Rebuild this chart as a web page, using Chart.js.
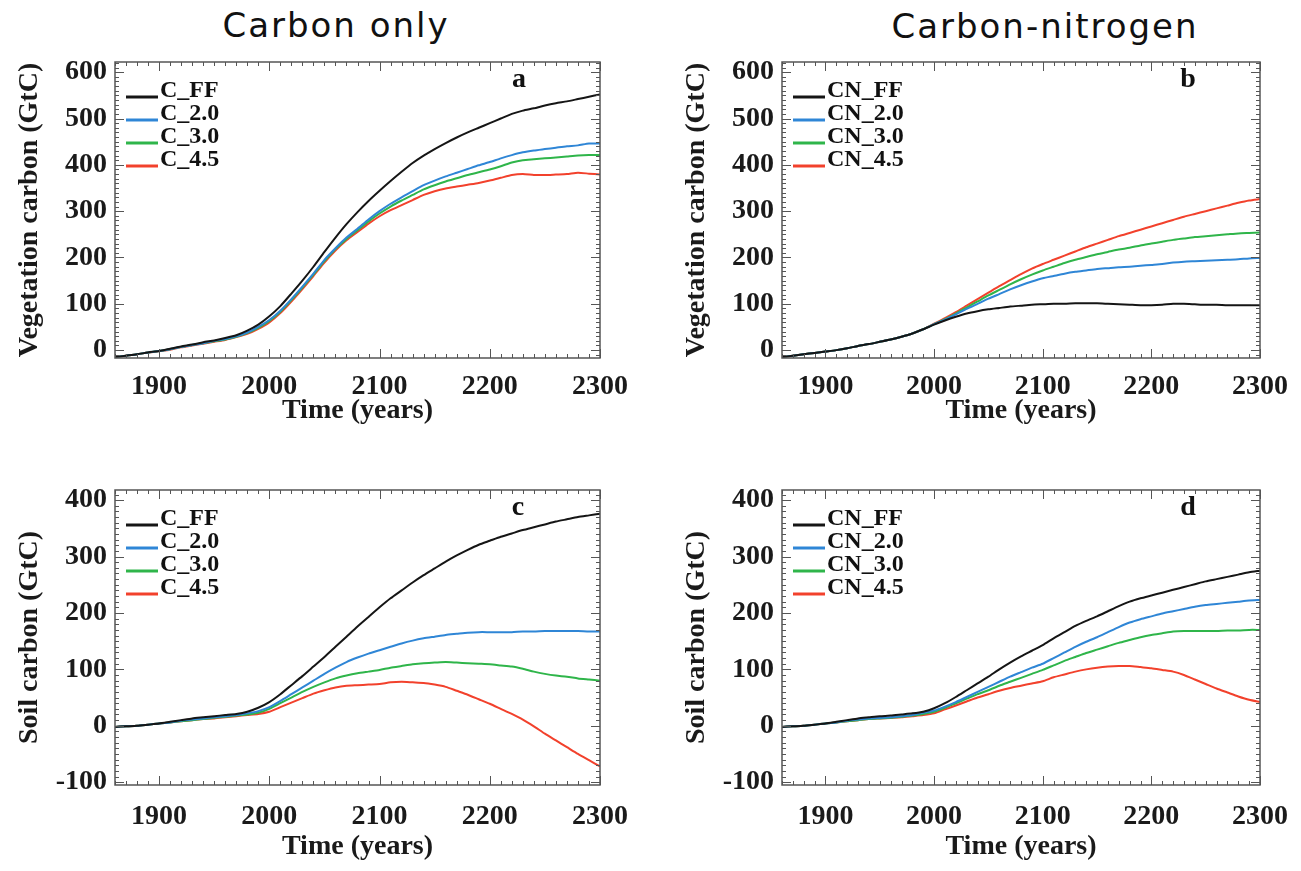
<!DOCTYPE html>
<html>
<head>
<meta charset="utf-8">
<script src="https://cdn.jsdelivr.net/npm/chart.js@4.4.0/dist/chart.umd.min.js"></script>
<style>
  html, body { margin: 0; padding: 0; background: #fff; }
  body { width: 1301px; height: 871px; position: relative; overflow: hidden; }
  .head { position: absolute; font-family: "Comic Sans MS", "DejaVu Sans", sans-serif; font-size: 34px;
          letter-spacing: 2px; color: #111; transform: translateX(-50%); white-space: nowrap; line-height: 1; }
  canvas { position: absolute; }
</style>
</head>
<body>
<div class="head" style="left:336px; top:8px;">Carbon only</div>
<div class="head" style="left:1045px; top:9px;">Carbon-nitrogen</div>
<canvas id="pa" width="650" height="400" style="left:0px; top:50px;"></canvas>
<canvas id="pb" width="651" height="400" style="left:650px; top:50px;"></canvas>
<canvas id="pc" width="650" height="401" style="left:0px; top:470px;"></canvas>
<canvas id="pd" width="651" height="401" style="left:650px; top:470px;"></canvas>
<script>
// ---- data (GtC change, every 10 years) ----
const years = [1860,1870,1880,1890,1900,1910,1920,1930,1940,1950,1960,1970,1980,1990,
  2000,2010,2020,2030,2040,2050,2060,2070,2080,2090,
  2100,2110,2120,2130,2140,2150,2160,2170,2180,2190,
  2200,2210,2220,2230,2240,2250,2260,2270,2280,2290,2300];
const xTicks = [1900, 2000, 2100, 2200, 2300];

// a: vegetation carbon, carbon only
const vegC_FF  = [-15,-12,-9,-5,-2,3,8,12,17,21,26,32,42,55, 73,95,122,150,180,212,243,272,298,322,
  344,365,385,404,420,434,447,459,470,480, 490,500,510,517,522,528,533,537,542,547, 552];
const vegC_20  = [-15,-12,-9,-5,-2,2,7,11,15,20,24,30,38,50, 65,85,110,137,165,195,220,243,262,282,
  300,316,330,343,356,366,375,383,391,399, 406,414,421,427,431,434,437,440,442,446, 446];
const vegC_30  = [-15,-12,-9,-5,-2,2,7,11,15,19,23,29,37,48, 63,83,108,135,163,192,218,240,259,278,
  295,310,323,335,347,356,364,371,378,384, 390,397,405,410,412,414,416,418,420,421, 421];
const vegC_45  = [-15,-12,-9,-5,-2,1,6,10,14,18,22,28,35,46, 60,80,105,132,160,189,215,237,255,273,
  289,302,313,324,335,343,349,353,357,361, 366,372,378,380,378,378,379,380,383,381, 379];

// b: vegetation carbon, carbon-nitrogen
const vegCN_FF = [-15,-12,-9,-6,-3,0,4,9,13,18,23,29,36,45, 55,64,72,79,84,88,91,94,96,98,
  99,100,100,101,101,101,100,99,98,97, 97,98,100,100,99,98,98,97,97,97, 97];
const vegCN_20 = [-15,-12,-9,-6,-3,0,4,9,13,18,23,29,36,45, 56,66,77,89,100,111,121,131,140,148,
  155,160,165,169,172,175,177,179,180,182, 184,186,189,191,192,193,194,195,196,198, 199];
const vegCN_30 = [-15,-12,-9,-6,-3,0,4,9,13,18,23,29,36,45, 56,67,79,92,105,118,130,142,153,163,
  172,180,188,195,201,207,212,217,221,226, 230,234,238,241,244,246,248,250,252,253, 254];
const vegCN_45 = [-15,-12,-9,-6,-3,0,4,9,13,18,23,29,36,45, 57,69,82,96,110,124,138,151,164,176,
  186,195,204,213,222,230,238,246,253,260, 267,274,281,288,294,300,306,312,318,323, 326];

// c: soil carbon, carbon only
const soilC_FF = [-2,-1,0,2,4,7,10,13,15,17,19,21,25,32, 42,56,72,88,105,122,140,158,176,193,
  210,226,240,254,267,279,291,302,312,321, 328,335,341,347,352,357,362,366,370,373, 376];
const soilC_20 = [-2,-1,0,2,4,6,9,11,13,15,17,19,22,26, 33,44,56,68,80,92,103,113,121,128,
  134,140,146,151,155,158,161,163,165,166, 166,166,166,167,167,168,168,168,168,167, 167];
const soilC_30 = [-2,-1,0,2,4,6,8,10,12,14,16,18,20,23, 30,40,50,60,69,77,84,89,93,96,
  99,103,106,109,111,112,113,112,111,110, 109,107,105,101,96,92,89,87,84,82, 80];
const soilC_45 = [-2,-1,0,2,4,6,8,10,12,13,15,17,19,21, 25,33,41,49,57,63,68,71,72,73,
  74,77,78,77,76,73,69,62,55,47, 39,30,21,11,-1,-14,-26,-38,-50,-61, -72];

// d: soil carbon, carbon-nitrogen
const soilCN_FF = [-2,-1,0,2,4,7,10,13,15,17,18,20,22,25, 31,40,51,63,75,87,100,112,123,133,
  143,155,166,177,186,194,203,212,220,226, 231,236,241,246,251,256,260,264,268,272, 275];
const soilCN_20 = [-2,-1,0,2,4,6,9,11,13,14,15,17,19,23, 27,34,42,51,60,69,78,87,95,103,
  110,120,130,140,149,157,166,175,183,189, 194,199,203,207,211,214,216,218,220,222, 223];
const soilCN_30 = [-2,-1,0,2,4,6,8,10,12,13,14,16,18,21, 25,32,40,48,56,63,71,78,85,92,
  99,107,115,122,129,135,141,147,152,157, 161,164,167,168,168,168,168,169,169,170, 170];
const soilCN_45 = [-2,-1,0,2,4,6,8,10,12,13,14,15,17,19, 22,29,36,43,50,56,62,67,71,75,
  79,86,91,96,100,103,105,106,106,104, 102,99,96,90,82,74,66,59,52,46, 42];

const vegTicks = [0, 100, 200, 300, 400, 500, 600];
const soilTicks = [-100, 0, 100, 200, 300, 400];

const colors = ['#151515', '#2f86d6', '#2fb54a', '#f2412c'];
const serif = '"Liberation Serif", "Times New Roman", serif';

// frame, inward ticks (IDL style), legend and panel letter
const idlFrame = {
  id: 'idlFrame',
  afterDatasetsDraw(chart, args, opts) {
    const { ctx, chartArea: a, scales: { x, y } } = chart;
    ctx.save();
    ctx.strokeStyle = '#555';
    ctx.lineWidth = 1;
    const seg = (x0, y0, x1, y1) => { ctx.beginPath(); ctx.moveTo(x0, y0); ctx.lineTo(x1, y1); ctx.stroke(); };
    for (let v = 1860; v <= 2300; v += 10) {
      const px = Math.round(x.getPixelForValue(v)) + 0.5;
      const len = v % 100 === 0 ? 9 : 4;
      seg(px, a.bottom, px, a.bottom - len);
      seg(px, a.top, px, a.top + len);
    }
    for (let v = Math.ceil(y.min / 10) * 10; v <= y.max; v += 10) {
      const py = Math.round(y.getPixelForValue(v)) + 0.5;
      const len = v % 100 === 0 ? 9 : 4;
      seg(a.left, py, a.left + len, py);
      seg(a.right, py, a.right - len, py);
    }
    ctx.lineWidth = 1.5;
    ctx.strokeRect(a.left, a.top, a.width, a.height);

    ctx.font = 'bold 24px ' + serif;
    ctx.textBaseline = 'alphabetic';
    ctx.textAlign = 'left';
    chart.data.datasets.forEach((ds, i) => {
      const yy = a.top + 35 + i * 23;
      ctx.strokeStyle = ds.borderColor;
      ctx.lineWidth = 3;
      seg(a.left + 11, yy, a.left + 43, yy);
      ctx.fillStyle = '#111';
      ctx.fillText(ds.label, a.left + 45, yy);
    });

    ctx.font = 'bold 28px ' + serif;
    ctx.textAlign = 'center';
    ctx.textBaseline = 'middle';
    ctx.fillStyle = '#111';
    ctx.fillText(opts.letter, a.right - opts.letterDx, a.top + 18);
    ctx.restore();
  }
};

function makePanel(id, p) {
  const datasets = p.series.map((s, i) => ({
    label: p.names[i],
    data: years.map((yr, k) => ({ x: yr, y: s[k] })),
    borderColor: colors[i],
    borderWidth: 2,
    pointRadius: 0,
    tension: 0.2,
    fill: false
  }));
  return new Chart(document.getElementById(id), {
    type: 'line',
    data: { datasets },
    plugins: [idlFrame],
    options: {
      responsive: false,
      animation: false,
      devicePixelRatio: 1,
      layout: { padding: { top: p.padTop, right: p.padRight, left: 0, bottom: 0 } },
      plugins: {
        legend: { display: false },
        tooltip: { enabled: false },
        idlFrame: { letter: p.letter, letterDx: p.letterDx }
      },
      scales: {
        x: {
          type: 'linear',
          min: 1860, max: 2300,
          grid: { display: false, drawTicks: false },
          border: { display: false },
          afterBuildTicks: sc => { sc.ticks = xTicks.map(v => ({ value: v })); },
          afterFit: sc => { sc.height = p.xHeight; sc.paddingLeft = 0; sc.paddingRight = 0; },
          ticks: {
            padding: p.xTickPad, maxRotation: 0, autoSkip: false, color: '#1a1a1a',
            font: { family: serif, weight: 'bold', size: 28 },
            callback: v => String(v)
          },
          title: {
            display: true, text: 'Time (years)', color: '#1a1a1a',
            font: { family: serif, weight: 'bold', size: 28 },
            padding: { top: 0, bottom: p.xTitlePad }
          }
        },
        y: {
          type: 'linear',
          min: p.yMin, max: p.yMax,
          grid: { display: false, drawTicks: false },
          border: { display: false },
          afterBuildTicks: sc => { sc.ticks = p.yTicks.map(v => ({ value: v })); },
          afterFit: sc => { sc.width = p.yWidth; sc.paddingTop = 0; sc.paddingBottom = 0; },
          ticks: {
            padding: 8, color: '#1a1a1a',
            font: { family: serif, weight: 'bold', size: 28 },
            callback: v => String(v)
          },
          title: {
            display: true, text: p.yTitle, color: '#1a1a1a',
            font: { family: serif, weight: 'bold', size: 28 },
            padding: { top: p.yTitlePad, bottom: 0 }
          }
        }
      }
    }
  });
}

makePanel('pa', {
  series: [vegC_FF, vegC_20, vegC_30, vegC_45], names: ['C_FF', 'C_2.0', 'C_3.0', 'C_4.5'],
  yMin: -17, yMax: 622, yTicks: vegTicks, yTitle: 'Vegetation carbon (GtC)',
  padTop: 12, padRight: 50, yWidth: 115, yTitlePad: 13,
  xHeight: 92, xTickPad: 12, xTitlePad: 22, letter: 'a', letterDx: 81
});
makePanel('pb', {
  series: [vegCN_FF, vegCN_20, vegCN_30, vegCN_45], names: ['CN_FF', 'CN_2.0', 'CN_3.0', 'CN_4.5'],
  yMin: -17, yMax: 622, yTicks: vegTicks, yTitle: 'Vegetation carbon (GtC)',
  padTop: 12, padRight: 41, yWidth: 132, yTitlePad: 30,
  xHeight: 92, xTickPad: 12, xTitlePad: 22, letter: 'b', letterDx: 72
});
makePanel('pc', {
  series: [soilC_FF, soilC_20, soilC_30, soilC_45], names: ['C_FF', 'C_2.0', 'C_3.0', 'C_4.5'],
  yMin: -105, yMax: 418, yTicks: soilTicks, yTitle: 'Soil carbon (GtC)',
  padTop: 20, padRight: 50, yWidth: 115, yTitlePad: 13,
  xHeight: 86, xTickPad: 15, xTitlePad: 7, letter: 'c', letterDx: 82
});
makePanel('pd', {
  series: [soilCN_FF, soilCN_20, soilCN_30, soilCN_45], names: ['CN_FF', 'CN_2.0', 'CN_3.0', 'CN_4.5'],
  yMin: -105, yMax: 418, yTicks: soilTicks, yTitle: 'Soil carbon (GtC)',
  padTop: 20, padRight: 41, yWidth: 132, yTitlePad: 30,
  xHeight: 86, xTickPad: 15, xTitlePad: 7, letter: 'd', letterDx: 72
});
</script>
</body>
</html>
